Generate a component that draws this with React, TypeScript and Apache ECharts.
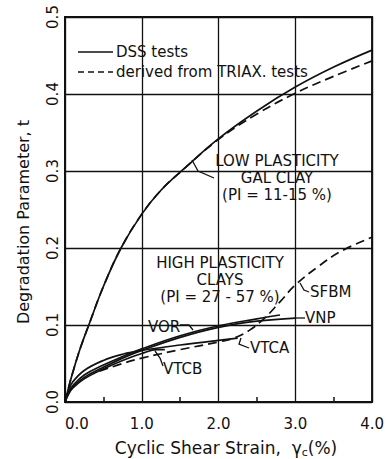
import React, { useEffect, useRef } from "react";
import * as echarts from "echarts";

// Cyclic shear strain (%) and degradation parameter t
const lowStrain = [0, 0.05, 0.1, 0.2, 0.31, 0.5, 0.73, 1.0, 1.25, 1.54, 2.0, 2.5, 3.0, 3.5, 4.0];
const lowDss = [0, 0.02, 0.038, 0.07, 0.1, 0.15, 0.2, 0.244, 0.275, 0.302, 0.342, 0.378, 0.409, 0.435, 0.457];
const lowTriax = [0, 0.02, 0.038, 0.07, 0.1, 0.15, 0.2, 0.244, 0.275, 0.302, 0.341, 0.374, 0.401, 0.423, 0.443];

const vorStrain = [0, 0.05, 0.1, 0.25, 0.5, 0.75, 1.0, 1.5, 2.0, 2.5, 2.8];
const vorT = [0, 0.013, 0.021, 0.035, 0.048, 0.059, 0.069, 0.086, 0.099, 0.108, 0.113];

const vnpStrain = [0, 0.05, 0.1, 0.25, 0.5, 0.75, 1.0, 1.5, 2.0, 2.5, 3.0];
const vnpT = [0, 0.012, 0.019, 0.032, 0.045, 0.057, 0.067, 0.084, 0.097, 0.105, 0.109];

const vtcaStrain = [0, 0.05, 0.1, 0.25, 0.5, 0.75, 1.0, 1.5, 2.0, 2.25];
const vtcaT = [0, 0.016, 0.026, 0.041, 0.054, 0.062, 0.067, 0.074, 0.08, 0.083];

const vtcbStrain = [0, 0.05, 0.1, 0.25, 0.5, 0.75, 1.0, 1.2, 1.3];
const vtcbT = [0, 0.011, 0.018, 0.03, 0.043, 0.054, 0.063, 0.068, 0.068];

const sfbmStrain = [0.45, 0.75, 1.0, 1.5, 2.0, 2.2, 2.4, 2.6, 2.8, 3.0, 3.3, 3.6, 4.0];
const sfbmT = [0.04, 0.05, 0.057, 0.068, 0.078, 0.083, 0.093, 0.109, 0.13, 0.152, 0.176, 0.196, 0.214];

const xTicks = [0, 1, 2, 3, 4];
const yTicks = [0, 0.1, 0.2, 0.3, 0.4, 0.5];

const FONT = "DejaVu Sans";
const INK = "#111";

const pairs = (xs: number[], ys: number[]) => xs.map((x, i) => [x, ys[i]]);

const curve = (name: string, xs: number[], ys: number[], dashed = false) => ({
  name,
  type: "line",
  data: pairs(xs, ys),
  smooth: 0.4,
  showSymbol: false,
  symbol: "none",
  lineStyle: { color: INK, width: 1.7, type: dashed ? [9, 5] : "solid" },
  z: 3,
});

const txt = (text: string, x: number, y: number, align = "center", size = 15) => ({
  type: "text",
  x,
  y,
  style: {
    text,
    fill: INK,
    font: `${size}px "${FONT}"`,
    align,
    verticalAlign: "middle",
    lineHeight: 17,
  },
  z: 10,
});

const leader = (points: number[][]) => ({
  type: "polyline",
  shape: { points },
  style: { stroke: INK, lineWidth: 1.3, fill: "none" },
  z: 10,
});

export default function App() {
  const ref = useRef<HTMLDivElement>(null);

  useEffect(() => {
    if (!ref.current) return;
    const chart = echarts.init(ref.current, null, { renderer: "svg" });
    chart.setOption({
      animation: false,
      backgroundColor: "#fff",
      grid: {
        left: 65,
        right: 11,
        top: 17,
        bottom: 57,
        show: true,
        borderColor: INK,
        borderWidth: 2,
      },
      xAxis: {
        type: "value",
        min: xTicks[0],
        max: xTicks[xTicks.length - 1],
        interval: 1,
        axisLine: { show: true, lineStyle: { color: INK, width: 2 } },
        axisTick: { show: false, inside: true },
        minorTick: { show: true, splitNumber: 2, length: 5, lineStyle: { color: INK, width: 1.5 } },
        splitLine: { show: true, lineStyle: { color: INK, width: 1.3 } },
        axisLabel: {
          color: INK,
          fontFamily: FONT,
          fontSize: 15,
          margin: 14,
          alignMinLabel: "left",
          formatter: (v: number) => v.toFixed(1),
        },
      },
      yAxis: {
        type: "value",
        min: yTicks[0],
        max: yTicks[yTicks.length - 1],
        interval: 0.1,
        axisLine: { show: true, lineStyle: { color: INK, width: 2 } },
        axisTick: { show: false },
        splitLine: { show: true, lineStyle: { color: INK, width: 1.3 } },
        axisLabel: {
          color: INK,
          fontFamily: FONT,
          fontSize: 15,
          rotate: 90,
          margin: 5,
          formatter: (v: number) => v.toFixed(1),
        },
      },
      series: [
        curve("DSS tests", lowStrain, lowDss),
        curve("derived from TRIAX. tests", lowStrain, lowTriax, true),
        curve("VOR", vorStrain, vorT),
        curve("VNP", vnpStrain, vnpT),
        curve("VTCA", vtcaStrain, vtcaT),
        curve("VTCB", vtcbStrain, vtcbT),
        curve("SFBM", sfbmStrain, sfbmT, true),
      ],
      graphic: [
        // legend
        { type: "line", shape: { x1: 78, y1: 52, x2: 113, y2: 52 }, style: { stroke: INK, lineWidth: 1.7 }, z: 10 },
        txt("DSS tests", 116, 52, "left"),
        {
          type: "line",
          shape: { x1: 78, y1: 72, x2: 113, y2: 72 },
          style: { stroke: INK, lineWidth: 1.7, lineDash: [6, 4] },
          z: 10,
        },
        txt("derived from TRIAX. tests", 116, 72, "left"),

        // low plasticity group
        txt("LOW PLASTICITY\nGAL CLAY\n(PI = 11-15 %)", 277, 178),
        leader([[214, 178], [198, 171], [192, 160]]),

        // high plasticity group
        txt("HIGH PLASTICITY\nCLAYS\n(PI = 27 - 57 %)", 220, 280),

        // curve tags
        txt("SFBM", 310, 292, "left"),
        leader([[300, 283], [304, 290], [309, 292]]),
        txt("VNP", 305, 318, "left"),
        leader([[296, 318], [305, 318]]),
        txt("VOR", 148, 327, "left"),
        leader([[180, 325], [189, 325], [193, 330]]),
        txt("VTCA", 250, 348, "left"),
        leader([[241, 338], [239, 344], [249, 348]]),
        txt("VTCB", 163, 369, "left"),
        leader([[155, 351], [160, 358], [163, 366]]),

        // axis titles
        {
          type: "text",
          x: 23,
          y: 222,
          rotation: Math.PI / 2,
          style: {
            text: "Degradation Parameter, t",
            fill: INK,
            font: `16px "${FONT}"`,
            align: "center",
            verticalAlign: "middle",
          },
        },
        {
          type: "text",
          x: 226,
          y: 448,
          style: {
            text: "Cyclic Shear Strain,  γ{sub|c}(%)",
            fill: INK,
            font: `17px "${FONT}"`,
            align: "center",
            verticalAlign: "middle",
            rich: {
              sub: { fontFamily: FONT, fontSize: 11, verticalAlign: "bottom", padding: [8, 0, 0, 0], fill: INK },
            },
          },
        },
      ],
    });
    return () => chart.dispose();
  }, []);

  return <div ref={ref} style={{ position: "absolute", left: 0, top: 0, width: 387, height: 459 }} />;
}
